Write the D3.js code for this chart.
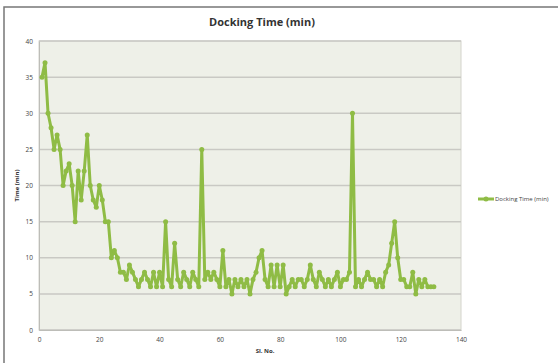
<!DOCTYPE html>
<html>
<head>
<meta charset="utf-8">
<script src="https://cdn.jsdelivr.net/npm/d3@7"></script>
<style>
  body { margin: 0; background: #fff; }
  text { font-family: "Open Sans", "Liberation Sans", sans-serif; }
</style>
</head>
<body>
<svg id="chart" width="558" height="363"></svg>
<script>
// Docking time per serial number
var serialNo = d3.range(1, 132);
var dockingTime = [
  35, 37, 30, 28, 25, 27, 25, 20, 22, 23,
  20, 15, 22, 18, 22, 27, 20, 18, 17, 20,
  18, 15, 15, 10, 11, 10, 8, 8, 7, 9,
  8, 7, 6, 7, 8, 7, 6, 8, 6, 8,
  6, 15, 7, 6, 12, 7, 6, 8, 7, 6,
  8, 7, 6, 25, 7, 8, 7, 8, 7, 6,
  11, 6, 7, 5, 7, 6, 7, 6, 7, 5,
  7, 8, 10, 11, 7, 6, 9, 6, 9, 6,
  9, 5, 6, 7, 6, 7, 7, 6, 7, 9,
  7, 6, 8, 7, 6, 7, 6, 7, 8, 6,
  7, 7, 8, 30, 6, 7, 6, 7, 8, 7,
  7, 6, 7, 6, 8, 9, 12, 15, 10, 7,
  7, 6, 6, 8, 5, 7, 6, 7, 6, 6,
  6
];
var xTicks = [0, 20, 40, 60, 80, 100, 120, 140];
var yTicks = [0, 5, 10, 15, 20, 25, 30, 35, 40];
var seriesName = "Docking Time (min)";

var svg = d3.select("#chart"),
    green = "#8fbc45",
    margin = {left: 39, right: 97, top: 41, bottom: 33},
    width = 558 - margin.left - margin.right,
    height = 363 - margin.top - margin.bottom;

// chart frame
svg.append("rect")
    .attr("x", 4).attr("y", 7).attr("width", 556).attr("height", 358)
    .attr("fill", "#fff").attr("stroke", "#777").attr("stroke-width", 1.5);

var x = d3.scaleLinear().domain([0, 140]).range([0, width]);
var y = d3.scaleLinear().domain([0, 40]).range([height, 0]);

var g = svg.append("g").attr("transform", "translate(" + margin.left + "," + margin.top + ")");

g.append("rect")
    .attr("width", width).attr("height", height)
    .attr("fill", "#eef0e8").attr("stroke", "#d4d4cc");

// gridlines
g.selectAll(".grid").data(yTicks).enter().append("line")
    .attr("class", "grid")
    .attr("x1", 0).attr("x2", width)
    .attr("y1", function (d) { return y(d); })
    .attr("y2", function (d) { return y(d); })
    .attr("stroke", "#c9c9c4").attr("stroke-width", 1.5);

// axes
var yAxis = g.append("g").call(d3.axisLeft(y).tickValues(yTicks).tickSize(0).tickPadding(6));
var xAxis = g.append("g").attr("transform", "translate(0," + height + ")")
    .call(d3.axisBottom(x).tickValues(xTicks).tickSize(0).tickPadding(7));
[xAxis, yAxis].forEach(function (a) {
    a.select(".domain").attr("stroke", "#bdbdb8");
    a.selectAll("text").attr("font-size", 6.5).attr("fill", "#444");
});

// line + markers
var line = d3.line()
    .x(function (d, i) { return x(serialNo[i]); })
    .y(function (d) { return y(d); });

g.append("path")
    .datum(dockingTime)
    .attr("d", line)
    .attr("fill", "none")
    .attr("stroke", green)
    .attr("stroke-width", 3)
    .attr("stroke-linejoin", "round");

g.selectAll(".marker").data(dockingTime).enter().append("circle")
    .attr("class", "marker")
    .attr("cx", function (d, i) { return x(serialNo[i]); })
    .attr("cy", function (d) { return y(d); })
    .attr("r", 2.5)
    .attr("fill", green);

// titles
svg.append("text")
    .attr("x", 262).attr("y", 26)
    .attr("text-anchor", "middle")
    .attr("font-size", 11).attr("font-weight", "bold").attr("fill", "#333")
    .text("Docking Time (min)");

svg.append("text")
    .attr("transform", "translate(19," + (margin.top + height / 2) + ") rotate(-90)")
    .attr("text-anchor", "middle")
    .attr("font-size", 6).attr("font-weight", "bold").attr("fill", "#333")
    .text("Time (min)");

svg.append("text")
    .attr("x", margin.left + x(75)).attr("y", 353)
    .attr("text-anchor", "middle")
    .attr("font-size", 6).attr("font-weight", "bold").attr("fill", "#333")
    .text("Sl. No.");

// legend
var lg = svg.append("g").attr("transform", "translate(478,199)");
lg.append("line").attr("x1", 0).attr("x2", 16).attr("stroke", green).attr("stroke-width", 3);
lg.append("circle").attr("cx", 8).attr("r", 2.5).attr("fill", green);
lg.append("text").attr("x", 17).attr("y", 2.2)
    .attr("font-size", 6).attr("fill", "#444")
    .text(seriesName);
</script>
</body>
</html>
